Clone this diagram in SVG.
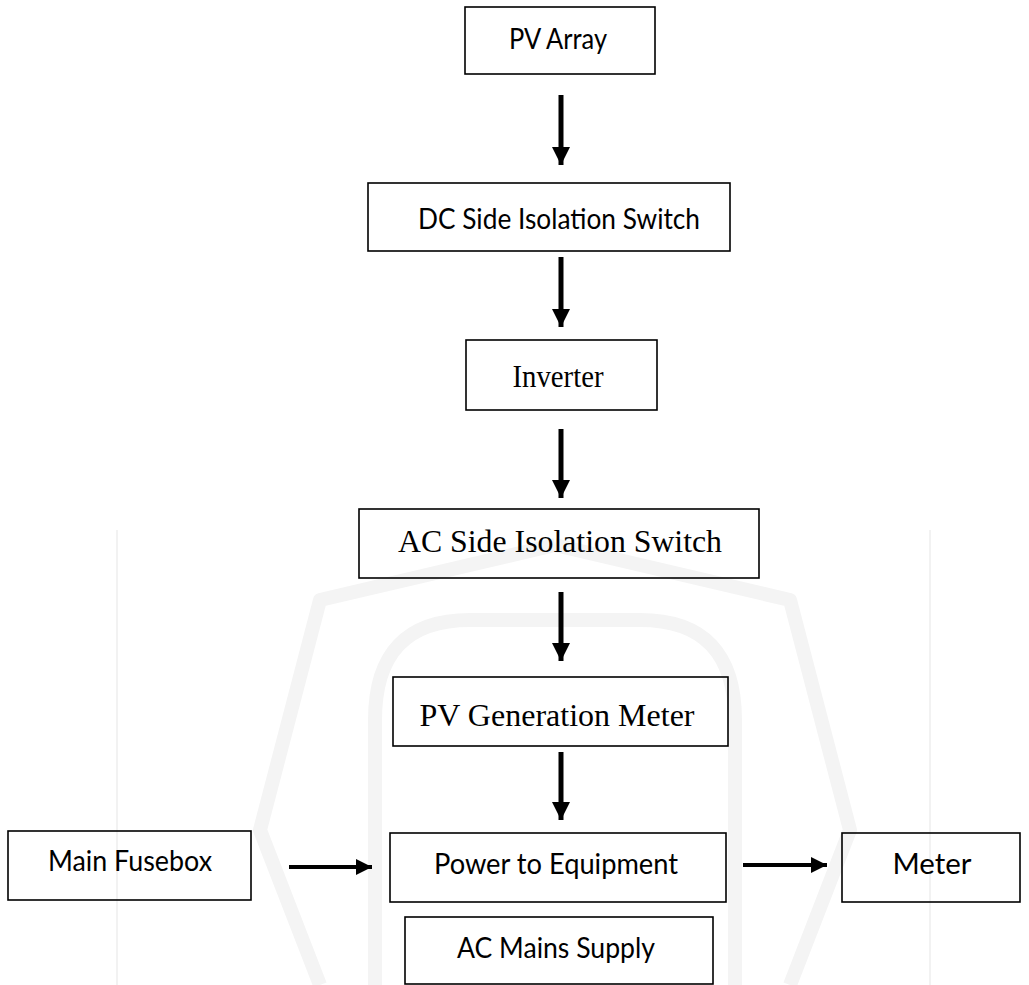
<svg xmlns="http://www.w3.org/2000/svg" width="1029" height="985" viewBox="0 0 1029 985">
<style>
.box{fill:none;stroke:#000;stroke-width:1.6}
.sans{font-family:Lato,"Liberation Sans",sans-serif;font-size:28px;fill:#000;text-anchor:middle}
.serif{font-family:"Liberation Serif","Times New Roman",serif;font-size:32px;fill:#000;text-anchor:middle}
.wm{fill:none;stroke:#f4f4f4;stroke-width:14;stroke-linejoin:round}
.conn{stroke:#000;fill:none}
</style>
<defs>
<marker id="ahv" markerUnits="userSpaceOnUse" markerWidth="20" markerHeight="20" refX="18" refY="9" orient="auto">
<path d="M0,0 L18,9 L0,18 Z" fill="#000"/>
</marker>
<marker id="ahh" markerUnits="userSpaceOnUse" markerWidth="18" markerHeight="18" refX="16" refY="8" orient="auto">
<path d="M0,0 L16,8 L0,16 Z" fill="#000"/>
</marker>
</defs>
<rect width="1029" height="985" fill="#fff"/>
<g id="watermark">
<line x1="117" y1="530" x2="117" y2="985" stroke="#f2f2f2" stroke-width="2"/>
<line x1="930" y1="530" x2="930" y2="985" stroke="#f2f2f2" stroke-width="2"/>
<path class="wm" d="M555,545 L790,600 L850,830 L790,985 M555,545 L320,600 L260,830 L320,985"/>
<path class="wm" d="M375,985 L375,720 Q375,620 470,620 L640,620 Q735,620 735,720 L735,985"/>
</g>
<g id="connectors">
<line class="conn" x1="561" y1="95" x2="561" y2="165" stroke-width="5" marker-end="url(#ahv)"/>
<line class="conn" x1="561" y1="257" x2="561" y2="327" stroke-width="5" marker-end="url(#ahv)"/>
<line class="conn" x1="561" y1="429" x2="561" y2="498" stroke-width="5" marker-end="url(#ahv)"/>
<line class="conn" x1="561" y1="592" x2="561" y2="661" stroke-width="5" marker-end="url(#ahv)"/>
<line class="conn" x1="561" y1="752" x2="561" y2="820" stroke-width="5" marker-end="url(#ahv)"/>
<line class="conn" x1="289" y1="867" x2="372" y2="867" stroke-width="4" marker-end="url(#ahh)"/>
<line class="conn" x1="743" y1="865" x2="827" y2="865" stroke-width="4" marker-end="url(#ahh)"/>
</g>
<g id="pv-array"><rect class="box" x="465" y="7" width="190" height="67"/><text class="sans" x="558" y="49" textLength="98" lengthAdjust="spacingAndGlyphs">PV Array</text></g>
<g id="dc-switch"><rect class="box" x="368" y="183" width="362" height="68"/><text class="sans" x="559" y="229" textLength="282" lengthAdjust="spacingAndGlyphs">DC Side Isolation Switch</text></g>
<g id="inverter"><rect class="box" x="466" y="340" width="191" height="70"/><text class="serif" x="558" y="387" textLength="91" lengthAdjust="spacingAndGlyphs">Inverter</text></g>
<g id="ac-switch"><rect class="box" x="359" y="509" width="400" height="69"/><text class="serif" x="560" y="552" textLength="324" lengthAdjust="spacingAndGlyphs">AC Side Isolation Switch</text></g>
<g id="pv-meter"><rect class="box" x="393" y="677" width="335" height="69"/><text class="serif" x="557" y="726" textLength="275" lengthAdjust="spacingAndGlyphs">PV Generation Meter</text></g>
<g id="main-fusebox"><rect class="box" x="8" y="831" width="243" height="69"/><text class="sans" x="130" y="871" textLength="164" lengthAdjust="spacingAndGlyphs">Main Fusebox</text></g>
<g id="power-equipment"><rect class="box" x="390" y="833" width="336" height="69"/><text class="sans" x="556" y="874" textLength="244" lengthAdjust="spacingAndGlyphs">Power to Equipment</text></g>
<g id="meter"><rect class="box" x="842" y="833" width="178" height="69"/><text class="sans" x="932" y="874" textLength="79" lengthAdjust="spacingAndGlyphs">Meter</text></g>
<g id="ac-mains"><rect class="box" x="405" y="917" width="308" height="67"/><text class="sans" x="556" y="958" textLength="198" lengthAdjust="spacingAndGlyphs">AC Mains Supply</text></g>
</svg>
